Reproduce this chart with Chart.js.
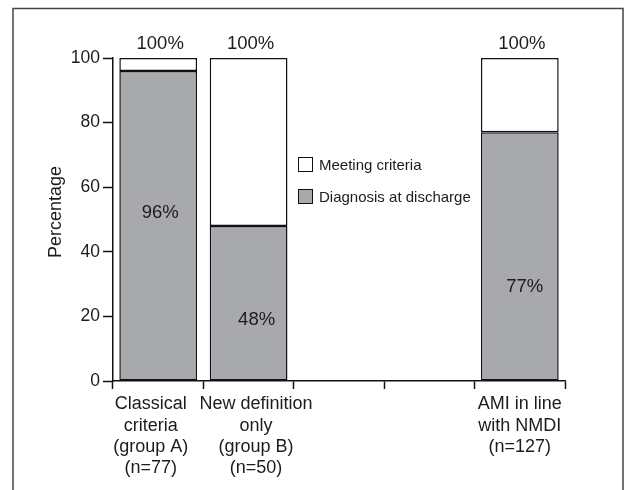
<!DOCTYPE html>
<html>
<head>
<meta charset="utf-8">
<script src="https://cdn.jsdelivr.net/npm/chart.js@4"></script>
<style>
  body { margin: 0; background: #fff; }
  canvas { display: block; }
</style>
</head>
<body>
<canvas id="myChart" width="628" height="490"></canvas>
<script>
// categories (two empty slots between group B and AMI)
const categories = [
  ['Classical   ', 'criteria   ', '(group A)   ', '(n=77)   '],
  ['   New definition', '   only', '   (group B)', '   (n=50)'],
  '',
  '',
  ['AMI in line', 'with NMDI', '(n=127)']
];
// percentages
const diagnosis = [96, 48, null, null, 77];
const meeting = [100, 100, null, null, 100];
const yTicks = [0, 20, 40, 60, 80, 100];

const FONT = "'Liberation Sans', Arial, sans-serif";
const INK = '#1c1c1c';
const GREY = '#a8a9ac';

// white part of each bar = meeting - diagnosis
const remainder = meeting.map((v, i) => v == null ? null : v - diagnosis[i]);

const labelsPlugin = {
  id: 'labelsPlugin',
  afterDatasetsDraw(chart) {
    const ctx = chart.ctx;
    const xs = chart.scales.x, ys = chart.scales.y;
    // where the inner % label sits (in axis units) and small x nudge
    const innerAt = [52, 19, null, null, 29];
    const innerDx = [2, 8, 0, 0, 5];
    ctx.save();
    ctx.fillStyle = INK;
    ctx.textAlign = 'center';
    ctx.textBaseline = 'middle';
    ctx.font = '18.5px ' + FONT;
    diagnosis.forEach((d, i) => {
      if (d == null) return;
      const x = xs.getPixelForValue(i);
      ctx.fillText(meeting[i] + '%', x + 2, ys.getPixelForValue(meeting[i]) - 14);
      ctx.fillText(d + '%', x + innerDx[i], ys.getPixelForValue(innerAt[i]));
    });

    // y axis title
    ctx.save();
    ctx.translate(56, 212);
    ctx.rotate(-Math.PI / 2);
    ctx.font = '18px ' + FONT;
    ctx.fillText('Percentage', 0, 0);
    ctx.restore();

    // legend
    ctx.font = '15px ' + FONT;
    ctx.textAlign = 'left';
    const items = [['Meeting criteria', '#fff'], ['Diagnosis at discharge', GREY]];
    items.forEach((it, k) => {
      const cy = 165 + k * 32;
      ctx.fillStyle = it[1];
      ctx.fillRect(298.5, cy - 7.5, 14, 14);
      ctx.strokeStyle = '#111';
      ctx.lineWidth = 1;
      ctx.strokeRect(298.5, cy - 7.5, 14, 14);
      ctx.fillStyle = INK;
      ctx.fillText(it[0], 319, cy + 1);
    });

    // outer frame
    ctx.strokeStyle = '#444';
    ctx.lineWidth = 1.5;
    ctx.beginPath();
    ctx.moveTo(13, 500);
    ctx.lineTo(13, 8.5);
    ctx.lineTo(623, 8.5);
    ctx.lineTo(623, 500);
    ctx.stroke();
    ctx.restore();
  }
};

const context = document.getElementById('myChart').getContext('2d');
const myChart = new Chart(context, {
  type: 'bar',
  data: {
    labels: categories,
    datasets: [
      {
        label: 'Diagnosis at discharge',
        data: diagnosis,
        backgroundColor: GREY,
        borderColor: '#111',
        borderWidth: 1.5,
        borderSkipped: false
      },
      {
        label: 'Meeting criteria',
        data: remainder,
        backgroundColor: '#fff',
        borderColor: '#111',
        borderWidth: 1.5,
        borderSkipped: false
      }
    ]
  },
  options: {
    responsive: false,
    animation: false,
    layout: { padding: { left: 0, top: 58, right: 63, bottom: 0 } },
    plugins: {
      legend: { display: false },
      tooltip: { enabled: false }
    },
    datasets: {
      bar: { categoryPercentage: 1, barPercentage: 0.86 }
    },
    scales: {
      x: {
        stacked: true,
        afterFit(scale) { scale.height = 109; },
        border: { display: true, color: '#111', width: 1.5 },
        grid: {
          offset: true,
          drawOnChartArea: false,
          drawTicks: true,
          tickLength: 8,
          tickColor: '#111',
          tickWidth: 1.5
        },
        ticks: {
          autoSkip: false,
          maxRotation: 0,
          padding: 5,
          color: INK,
          font: { family: FONT, size: 18, lineHeight: 1.17 }
        }
      },
      y: {
        stacked: true,
        min: 0,
        max: 100,
        afterFit(scale) { scale.width = 113; },
        afterBuildTicks(scale) { scale.ticks = yTicks.map(v => ({ value: v })); },
        border: { display: true, color: '#111', width: 1.5 },
        grid: {
          drawOnChartArea: false,
          drawTicks: true,
          tickLength: 10,
          tickColor: '#111',
          tickWidth: 1.5
        },
        ticks: {
          padding: 3,
          color: INK,
          font: { family: FONT, size: 17.5 }
        }
      }
    }
  },
  plugins: [labelsPlugin]
});
</script>
</body>
</html>
